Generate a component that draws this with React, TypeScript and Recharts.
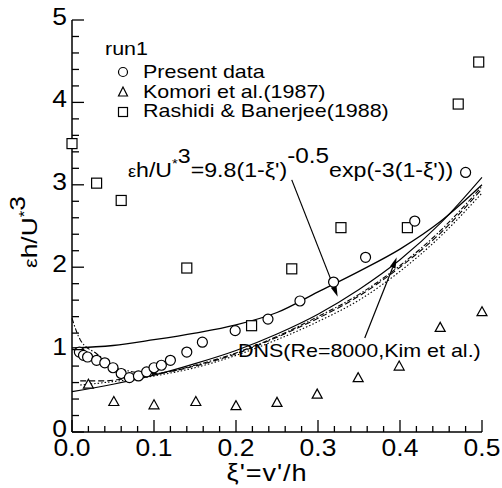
import React from 'react'
import {
    ComposedChart,
    Line,
    Scatter,
    XAxis,
    YAxis,
    ReferenceLine,
} from 'recharts'

const FONT = '"Liberation Sans", Arial, Helvetica, sans-serif'
const SX = 1.13

const xTicks = [
    0, 0.02, 0.04, 0.06, 0.08, 0.1, 0.12, 0.14, 0.16, 0.18, 0.2, 0.22, 0.24,
    0.26, 0.28, 0.3, 0.32, 0.34, 0.36, 0.38, 0.4, 0.42, 0.44, 0.46, 0.48, 0.5,
]
const yTicks = [
    0, 0.2, 0.4, 0.6, 0.8, 1, 1.2, 1.4, 1.6, 1.8, 2, 2.2, 2.4, 2.6, 2.8, 3,
    3.2, 3.4, 3.6, 3.8, 4, 4.2, 4.4, 4.6, 4.8, 5,
]

// run1 measurements
const presentData = [
    { x: 0.009, y: 0.97 }, { x: 0.014, y: 0.93 }, { x: 0.019, y: 0.91 },
    { x: 0.03, y: 0.87 }, { x: 0.04, y: 0.84 }, { x: 0.05, y: 0.78 },
    { x: 0.06, y: 0.71 }, { x: 0.07, y: 0.66 }, { x: 0.081, y: 0.68 },
    { x: 0.091, y: 0.73 }, { x: 0.1, y: 0.78 }, { x: 0.109, y: 0.81 },
    { x: 0.12, y: 0.87 }, { x: 0.14, y: 0.97 }, { x: 0.159, y: 1.09 },
    { x: 0.199, y: 1.23 }, { x: 0.239, y: 1.37 }, { x: 0.278, y: 1.59 },
    { x: 0.319, y: 1.82 }, { x: 0.358, y: 2.12 }, { x: 0.418, y: 2.56 },
    { x: 0.48, y: 3.15 },
]
const komoriData = [
    { x: 0.02, y: 0.58 }, { x: 0.051, y: 0.37 }, { x: 0.1, y: 0.33 },
    { x: 0.151, y: 0.37 }, { x: 0.2, y: 0.32 }, { x: 0.25, y: 0.36 },
    { x: 0.299, y: 0.46 }, { x: 0.349, y: 0.66 }, { x: 0.399, y: 0.8 },
    { x: 0.449, y: 1.27 }, { x: 0.5, y: 1.46 },
]
const rashidiData = [
    { x: 0.0, y: 3.5 }, { x: 0.03, y: 3.02 }, { x: 0.06, y: 2.81 },
    { x: 0.14, y: 1.99 }, { x: 0.219, y: 1.29 }, { x: 0.268, y: 1.98 },
    { x: 0.328, y: 2.48 }, { x: 0.409, y: 2.48 }, { x: 0.471, y: 3.98 },
    { x: 0.496, y: 4.49 },
]

// curves
const upperCurve = [
    { x: 0, y: 1.02 }, { x: 0.05, y: 1.05 }, { x: 0.1, y: 1.12 },
    { x: 0.15, y: 1.2 }, { x: 0.2, y: 1.3 }, { x: 0.25, y: 1.45 },
    { x: 0.3, y: 1.7 }, { x: 0.35, y: 1.95 }, { x: 0.4, y: 2.22 },
    { x: 0.45, y: 2.56 }, { x: 0.5, y: 3.0 },
]
const fitCurve = [
    { x: 0, y: 0.49 }, { x: 0.05, y: 0.58 }, { x: 0.1, y: 0.69 },
    { x: 0.15, y: 0.83 }, { x: 0.2, y: 0.99 }, { x: 0.25, y: 1.19 },
    { x: 0.3, y: 1.43 }, { x: 0.35, y: 1.73 }, { x: 0.4, y: 2.09 },
    { x: 0.45, y: 2.54 }, { x: 0.5, y: 3.09 },
]
const dnsDashed = [
    { x: 0.01, y: 0.62 }, { x: 0.04, y: 0.62 }, { x: 0.06, y: 0.64 },
    { x: 0.1, y: 0.7 }, { x: 0.15, y: 0.8 }, { x: 0.2, y: 0.95 },
    { x: 0.25, y: 1.15 }, { x: 0.3, y: 1.38 }, { x: 0.35, y: 1.65 },
    { x: 0.4, y: 2.0 }, { x: 0.45, y: 2.42 }, { x: 0.5, y: 2.95 },
]
const dnsDotted = [
    { x: 0.01, y: 0.57 }, { x: 0.04, y: 0.6 }, { x: 0.1, y: 0.68 },
    { x: 0.15, y: 0.78 }, { x: 0.2, y: 0.93 }, { x: 0.25, y: 1.12 },
    { x: 0.3, y: 1.34 }, { x: 0.35, y: 1.6 }, { x: 0.4, y: 1.95 },
    { x: 0.45, y: 2.38 }, { x: 0.5, y: 2.9 },
]
const dnsDashDot = [
    { x: 0.0, y: 1.38 }, { x: 0.01, y: 1.12 }, { x: 0.03, y: 0.95 },
    { x: 0.06, y: 0.76 }, { x: 0.1, y: 0.71 }, { x: 0.15, y: 0.81 },
    { x: 0.2, y: 0.96 }, { x: 0.25, y: 1.16 }, { x: 0.3, y: 1.4 },
    { x: 0.35, y: 1.67 }, { x: 0.4, y: 2.02 }, { x: 0.45, y: 2.45 },
    { x: 0.5, y: 2.98 },
]

const fitArrow = [{ x: 0.268, y: 3.06 }, { x: 0.324, y: 1.64 }]
const dnsArrow = [{ x: 0.357, y: 1.14 }, { x: 0.396, y: 2.12 }]

const ink = '#000'

function XTick(props: any) {
    const { x, y, payload, top } = props
    const v = payload.value
    const major = Math.round(v * 50) % 5 === 0
    const len = major ? 12 : 6
    if (top) {
        return <line x1={x} x2={x} y1={y} y2={y + len} stroke={ink} strokeWidth={1.3} />
    }
    return (
        <g>
            <line x1={x} x2={x} y1={y} y2={y - len} stroke={ink} strokeWidth={1.3} />
            {major && (
                <text
                    transform={`translate(${x},${y + 23.5}) scale(1.15,1)`}
                    textAnchor="middle"
                    fontSize={23}
                    fontFamily={FONT}
                    fill={ink}
                >
                    {v.toFixed(1)}
                </text>
            )}
        </g>
    )
}

function YTick(props: any) {
    const { x, y, payload, right } = props
    const v = payload.value
    const major = Math.abs(v - Math.round(v)) < 1e-6
    const len = major ? 12 : 7
    if (right) {
        return <line x1={x} x2={x - len} y1={y} y2={y} stroke={ink} strokeWidth={1.3} />
    }
    return (
        <g>
            <line x1={x} x2={x + len} y1={y} y2={y} stroke={ink} strokeWidth={1.3} />
            {major && (
                <text
                    transform={`translate(${x - 5},${y + 5}) scale(1.15,1)`}
                    textAnchor="end"
                    fontSize={23}
                    fontFamily={FONT}
                    fill={ink}
                >
                    {String(Math.round(v))}
                </text>
            )}
        </g>
    )
}

const circleShape = (p: any) => (
    <circle cx={p.cx} cy={p.cy} r={5} fill="#fff" stroke={ink} strokeWidth={1.2} />
)
const triShape = (p: any) => (
    <polygon
        points={`${p.cx},${p.cy - 5} ${p.cx - 5},${p.cy + 4} ${p.cx + 5},${p.cy + 4}`}
        fill="#fff"
        stroke={ink}
        strokeWidth={1.2}
    />
)
const squareShape = (p: any) => (
    <rect x={p.cx - 5} y={p.cy - 5} width={10} height={10} fill="#fff" stroke={ink} strokeWidth={1.2} />
)

function Arrow(p: any) {
    const { x1, y1, x2, y2 } = p
    const a = Math.atan2(y2 - y1, x2 - x1)
    const L = 11
    const W = 3
    const bx = x2 - L * Math.cos(a)
    const by = y2 - L * Math.sin(a)
    const nx = -Math.sin(a) * W
    const ny = Math.cos(a) * W
    return (
        <g>
            <line x1={x1} y1={y1} x2={bx} y2={by} stroke={ink} strokeWidth={1.2} />
            <polygon points={`${x2},${y2} ${bx + nx},${by + ny} ${bx - nx},${by - ny}`} fill={ink} />
        </g>
    )
}

function T({ x, y, size = 19, children, anchor = 'start', ls = 0 }: any) {
    return (
        <text
            transform={`translate(${x},${y}) scale(${SX},1)`}
            fontSize={size}
            fontFamily={FONT}
            textAnchor={anchor}
            letterSpacing={ls}
            fill={ink}
        >
            {children}
        </text>
    )
}

const axisLine = { stroke: ink, strokeWidth: 1.5 }

export default function App() {
    return (
        <div style={{ position: 'absolute', left: 0, top: 0, width: 502, height: 488, background: '#fff' }}>
            <ComposedChart width={502} height={488} margin={{ top: 20, right: 20, bottom: 0, left: 0 }}>
                <XAxis
                    xAxisId="b"
                    dataKey="x"
                    type="number"
                    domain={[0, 0.5]}
                    ticks={xTicks}
                    interval={0}
                    height={56}
                    tickSize={0}
                    tickMargin={0}
                    tickLine={false}
                    axisLine={axisLine}
                    tick={(p: any) => <XTick {...p} />}
                />
                <XAxis
                    xAxisId="t"
                    orientation="top"
                    dataKey="x"
                    type="number"
                    domain={[0, 0.5]}
                    ticks={xTicks}
                    interval={0}
                    height={0}
                    tickSize={0}
                    tickMargin={0}
                    tickLine={false}
                    axisLine={axisLine}
                    tick={(p: any) => <XTick {...p} top />}
                />
                <YAxis
                    yAxisId="l"
                    type="number"
                    domain={[0, 5]}
                    ticks={yTicks}
                    interval={0}
                    width={72}
                    tickSize={0}
                    tickMargin={0}
                    tickLine={false}
                    axisLine={axisLine}
                    tick={(p: any) => <YTick {...p} />}
                />
                <YAxis
                    yAxisId="r"
                    orientation="right"
                    type="number"
                    domain={[0, 5]}
                    ticks={yTicks}
                    interval={0}
                    width={0}
                    tickSize={0}
                    tickMargin={0}
                    tickLine={false}
                    axisLine={axisLine}
                    tick={(p: any) => <YTick {...p} right />}
                />

                <Line xAxisId="b" yAxisId="l" data={upperCurve} dataKey="y" type="monotone" stroke={ink} strokeWidth={1.3} dot={false} activeDot={false} isAnimationActive={false} />
                <Line xAxisId="b" yAxisId="l" data={fitCurve} dataKey="y" type="monotone" stroke={ink} strokeWidth={1.1} dot={false} activeDot={false} isAnimationActive={false} />
                <Line xAxisId="b" yAxisId="l" data={dnsDashed} dataKey="y" type="monotone" stroke={ink} strokeWidth={1.1} strokeDasharray="6 3" dot={false} activeDot={false} isAnimationActive={false} />
                <Line xAxisId="b" yAxisId="l" data={dnsDotted} dataKey="y" type="monotone" stroke={ink} strokeWidth={1.1} strokeDasharray="1.5 2" dot={false} activeDot={false} isAnimationActive={false} />
                <Line xAxisId="b" yAxisId="l" data={dnsDashDot} dataKey="y" type="monotone" stroke={ink} strokeWidth={1.1} strokeDasharray="5 2 1.5 2" dot={false} activeDot={false} isAnimationActive={false} />

                <Scatter xAxisId="b" yAxisId="l" data={komoriData} dataKey="y" shape={triShape} isAnimationActive={false} />
                <Scatter xAxisId="b" yAxisId="l" data={rashidiData} dataKey="y" shape={squareShape} isAnimationActive={false} />
                <Scatter xAxisId="b" yAxisId="l" data={presentData} dataKey="y" shape={circleShape} isAnimationActive={false} />

                <ReferenceLine xAxisId="b" yAxisId="l" segment={fitArrow} shape={Arrow} ifOverflow="visible" />
                <ReferenceLine xAxisId="b" yAxisId="l" segment={dnsArrow} shape={Arrow} ifOverflow="visible" />
            </ComposedChart>

            <svg width={502} height={488} style={{ position: 'absolute', left: 0, top: 0, pointerEvents: 'none' }}>
                <T x={105} y={55}>run1</T>
                <circle cx={123} cy={72} r={4.5} fill="none" stroke={ink} strokeWidth={1.2} />
                <T x={143} y={78}>Present data</T>
                <polygon points="123,87 118.5,96 127.5,96" fill="none" stroke={ink} strokeWidth={1.2} />
                <T x={143} y={98}>Komori et al.(1987)</T>
                <rect x={118.5} y={107.5} width={9} height={9} fill="none" stroke={ink} strokeWidth={1.2} />
                <T x={143} y={117}>Rashidi &amp; Banerjee(1988)</T>

                <text transform={`translate(128,177) scale(${SX},1)`} fontSize={20.5} fontFamily={FONT} fill={ink}>
                    <tspan fontSize={16}>ε</tspan>
                    <tspan>h/U</tspan>
                    <tspan fontSize={13} dy={-9}>*</tspan>
                    <tspan dy={-5}>3</tspan>
                    <tspan dy={14}>=9.8(1-ξ')</tspan>
                    <tspan dy={-14} fontSize={21.5}>-0.5</tspan>
                    <tspan dy={14}>exp(-3(1-ξ'))</tspan>
                </text>

                <T x={267} y={481} size={24} anchor="middle" ls={0.8}>ξ'=v'/h</T>

                <text transform="translate(37,232) rotate(-90) scale(1.2,1)" fontSize={22} fontFamily={FONT} fill={ink} textAnchor="middle">
                    <tspan fontSize={18}>ε</tspan>
                    <tspan>h/U</tspan>
                    <tspan fontSize={14} dy={-8}>*</tspan>
                    <tspan dy={-4}>3</tspan>
                </text>

                <T x={238} y={357}>DNS(Re=8000,Kim et al.)</T>
            </svg>
        </div>
    )
}
